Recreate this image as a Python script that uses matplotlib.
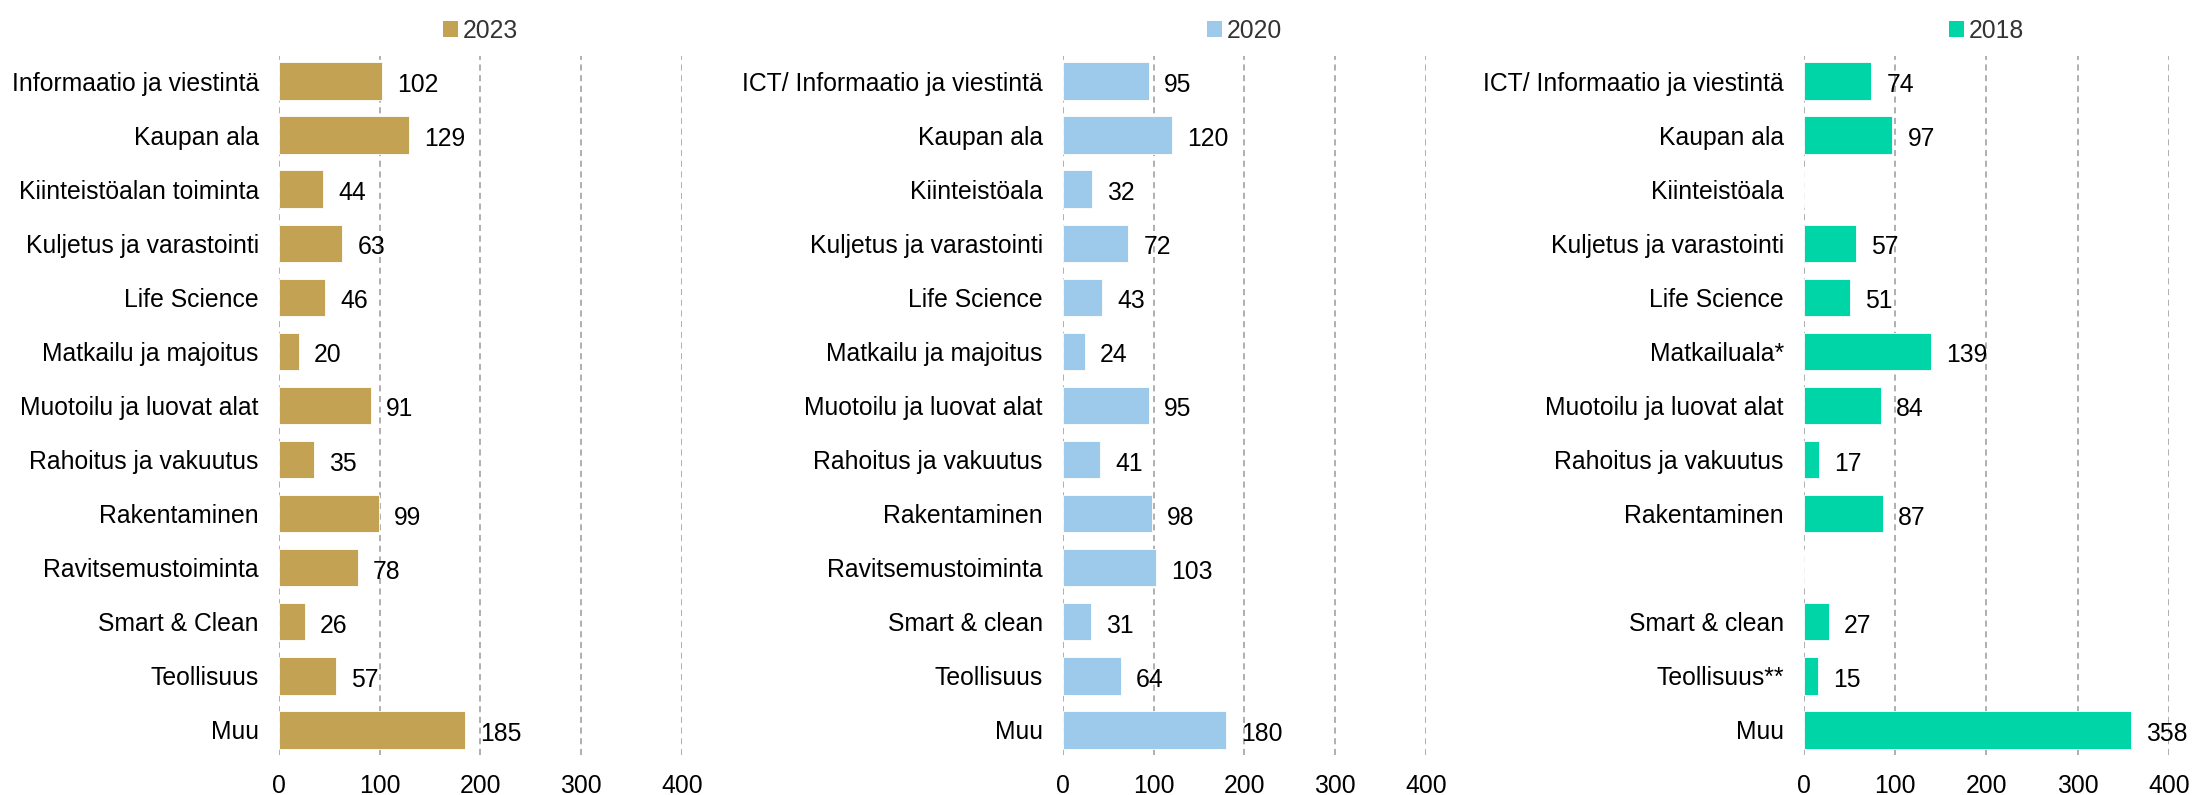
import numpy as np
import matplotlib
matplotlib.use("Agg")
import matplotlib.pyplot as plt
from matplotlib.patches import Patch

plt.rcParams['font.family'] = ['Liberation Sans', 'DejaVu Sans']

# --- data ---
labels_2023 = ["Informaatio ja viestintä", "Kaupan ala", "Kiinteistöalan toiminta",
               "Kuljetus ja varastointi", "Life Science", "Matkailu ja majoitus",
               "Muotoilu ja luovat alat", "Rahoitus ja vakuutus", "Rakentaminen",
               "Ravitsemustoiminta", "Smart & Clean", "Teollisuus", "Muu"]
values_2023 = [102, 129, 44, 63, 46, 20, 91, 35, 99, 78, 26, 57, 185]

labels_2020 = ["ICT/ Informaatio ja viestintä", "Kaupan ala", "Kiinteistöala",
               "Kuljetus ja varastointi", "Life Science", "Matkailu ja majoitus",
               "Muotoilu ja luovat alat", "Rahoitus ja vakuutus", "Rakentaminen",
               "Ravitsemustoiminta", "Smart & clean", "Teollisuus", "Muu"]
values_2020 = [95, 120, 32, 72, 43, 24, 95, 41, 98, 103, 31, 64, 180]

labels_2018 = ["ICT/ Informaatio ja viestintä", "Kaupan ala", "Kiinteistöala",
               "Kuljetus ja varastointi", "Life Science", "Matkailuala*",
               "Muotoilu ja luovat alat", "Rahoitus ja vakuutus", "Rakentaminen",
               "", "Smart & clean", "Teollisuus**", "Muu"]
values_2018 = [74, 97, np.nan, 57, 51, 139, 84, 17, 87, np.nan, 27, 15, 358]

years = ["2023", "2020", "2018"]
colors = ["#C4A253", "#9DC9EB", "#00D5A8"]
x_ticks = [0, 100, 200, 300, 400]

# axes rectangles in figure fractions [left, bottom, width, height]
rects = [[0.1272, 0.0503, 0.1838, 0.8793],
         [0.4847, 0.0503, 0.1655, 0.8793],
         [0.8226, 0.0503, 0.1664, 0.8793]]

FS = 17.8

fig = plt.figure(figsize=(21.93, 7.95), dpi=100)

panels = [(labels_2023, values_2023), (labels_2020, values_2020), (labels_2018, values_2018)]
for (labels, values), year, color, rect in zip(panels, years, colors, rects):
    ax = fig.add_axes(rect)
    y = np.arange(len(labels))
    vals = np.array(values, dtype=float)
    ax.barh(y, np.nan_to_num(vals), height=0.70, color=color,
            edgecolor='#ffffff', linewidth=0.6, zorder=2)
    for yi, v in zip(y, vals):
        if not np.isnan(v):
            ax.annotate(f"{int(v)}", xy=(v, yi), xytext=(15, -1.5), textcoords='offset pixels',
                        ha='left', va='center_baseline', fontsize=FS, color='black')
    ax.set_yticks(y)
    ax.set_yticklabels(labels, fontsize=FS, va='center_baseline')
    ax.set_ylim(12.47, -0.47)
    ax.set_xlim(0, 400)
    ax.set_xticks(x_ticks)
    ax.set_xticklabels([str(t) for t in x_ticks], fontsize=FS)
    ax.tick_params(axis='y', length=0, pad=14.5)
    ax.tick_params(axis='x', length=0, pad=14)
    for s in ax.spines.values():
        s.set_visible(False)
    ax.set_axisbelow(True)
    ax.xaxis.grid(True, color='#9a9a9a', linestyle=(0, (4, 3)), linewidth=1.1)
    ax.yaxis.grid(False)
    ax.legend(handles=[Patch(facecolor=color, label=year)], loc='lower center',
              bbox_to_anchor=(0.5, 1.005), frameon=False, fontsize=FS,
              handlelength=0.6, handleheight=0.6, handletextpad=0.2,
              labelcolor='#333333', borderaxespad=0)

fig.savefig("out.png", dpi=100)
